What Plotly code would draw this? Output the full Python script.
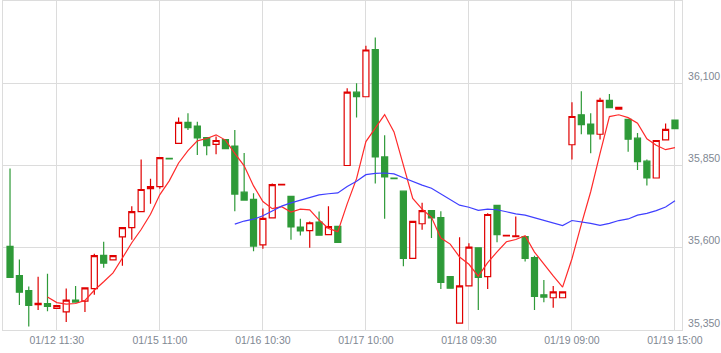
import plotly.graph_objects as go

# bar index positions and tick labels
tick_idx = [5, 16, 27, 38, 49, 60, 71]
tick_labels = ["01/12 11:30", "01/15 11:00", "01/16 10:30", "01/17 10:00",
               "01/18 09:30", "01/19 09:00", "01/19 15:00"]

opens = [35604, 35515, 35470, 35427, 35430, 35416, 35405, 35441, 35438, 35476,
         35577, 35563, 35633, 35661, 35710, 35780, 35786, 35872, 35917, 35981,
         35970, 35935, 35914, 35929, 35909, 35769, 35747, 35609, 35691, 35791,
         35756, 35663, 35652, 35678, 35640, 35665, 35850, 36073, 36059, 36202,
         35876, 35812, 35772, 35568, 35673, 35713, 35692, 35512, 35371, 35484,
         35600, 35512, 35729, 35636, 35634, 35634, 35570, 35457, 35448, 35448,
         35913, 36004, 35976, 35945, 36048, 36021, 35990, 35933, 35863, 35812,
         35928, 35988]
highs = [35841, 35564, 35482, 35512, 35521, 35424, 35476, 35484, 35478, 35582,
         35618, 35576, 35661, 35726, 35868, 35810, 35874, 35872, 35996, 36009,
         35983, 35935, 35938, 35929, 35958, 35888, 35766, 35719, 35795, 35793,
         35756, 35688, 35680, 35710, 35726, 35665, 36085, 36100, 36214, 36239,
         35942, 35812, 35772, 35680, 35737, 35713, 35711, 35512, 35632, 35614,
         35600, 35705, 35729, 35638, 35695, 35634, 35576, 35502, 35484, 35466,
         36042, 36076, 36009, 36056, 36067, 36027, 35990, 35949, 35868, 35926,
         35978, 35988]
lows = [35510, 35426, 35361, 35411, 35407, 35416, 35374, 35435, 35405, 35457,
        35539, 35563, 35545, 35624, 35710, 35734, 35779, 35870, 35917, 35958,
        35882, 35881, 35884, 35901, 35711, 35745, 35589, 35597, 35691, 35791,
        35624, 35637, 35600, 35638, 35640, 35616, 35850, 35996, 36059, 35795,
        35688, 35810, 35544, 35568, 35655, 35630, 35475, 35477, 35371, 35484,
        35411, 35475, 35617, 35636, 35634, 35558, 35411, 35434, 35418, 35448,
        35868, 35945, 35887, 35929, 36026, 36021, 35892, 35836, 35789, 35812,
        35928, 35962]
closes = [35510, 35465, 35425, 35431, 35422, 35424, 35441, 35435, 35478, 35576,
          35553, 35576, 35661, 35710, 35777, 35786, 35874, 35870, 35981, 35965,
          35934, 35910, 35926, 35901, 35763, 35745, 35605, 35689, 35792, 35793,
          35663, 35651, 35676, 35638, 35664, 35616, 36073, 36059, 36201, 35876,
          35815, 35810, 35568, 35680, 35713, 35691, 35495, 35477, 35484, 35602,
          35510, 35701, 35640, 35638, 35636, 35568, 35452, 35450, 35466, 35466,
          35999, 35974, 35946, 36048, 36026, 36027, 35930, 35862, 35812, 35926,
          35960, 35962]

# 5-bar average line (starts at bar 4)
ma5 = [35450.6, 35433.4, 35428.6, 35430.6, 35440.0, 35470.8, 35496.6, 35523.6,
       35568.8, 35615.2, 35655.4, 35702.0, 35761.6, 35803.4, 35857.6, 35895.2,
       35924.8, 35932.0, 35943.2, 35927.2, 35886.8, 35849.0, 35788.0, 35740.6,
       35718.8, 35724.8, 35708.4, 35717.6, 35715.0, 35684.2, 35658.4, 35649.0,
       35733.4, 35810.0, 35922.6, 35965.0, 36004.8, 35952.2, 35854.0, 35749.8,
       35717.2, 35692.4, 35629.4, 35611.2, 35572.0, 35549.8, 35513.6, 35554.8,
       35587.4, 35618.2, 35625.0, 35636.6, 35586.8, 35548.8, 35514.4, 35480.4,
       35566.6, 35671.0, 35770.2, 35886.6, 35998.6, 36004.2, 35995.4, 35978.6,
       35931.4, 35911.4, 35898.0, 35904.4]
# 25-bar average line (starts at bar 24)
ma25 = [35671.8, 35681.2, 35686.8, 35697.3, 35711.8, 35726.6, 35736.2, 35744.6,
        35754.2, 35760.6, 35764.1, 35766.6, 35786.5, 35802.4, 35822.1, 35826.0,
        35827.2, 35824.6, 35812.6, 35800.5, 35790.4, 35780.7, 35764.1, 35746.2,
        35729.5, 35723.0, 35713.6, 35717.5, 35715.5, 35709.4, 35703.1, 35699.3,
        35691.3, 35682.3, 35675.4, 35667.5, 35682.8, 35678.8, 35674.3, 35668.2,
        35674.2, 35682.7, 35687.5, 35699.2, 35704.5, 35713.0, 35723.8, 35742.5]

x = list(range(len(closes)))
x_ma5 = x[4:]
x_ma25 = x[24:]

RED = "#e00000"
GREEN = "#2e9a38"
GRID = "#dcdcdc"
TXT = "#7f8893"

fig = go.Figure()
fig.add_trace(go.Candlestick(
    x=x, open=opens, high=highs, low=lows, close=closes,
    increasing=dict(line=dict(color=RED, width=1.2), fillcolor="white"),
    decreasing=dict(line=dict(color=GREEN, width=1.2), fillcolor=GREEN),
    whiskerwidth=0, hoverinfo="skip", showlegend=False,
))
fig.add_trace(go.Scatter(x=x_ma5, y=ma5, mode="lines",
                         line=dict(color="#ff2a2a", width=1.2),
                         hoverinfo="skip", showlegend=False))
fig.add_trace(go.Scatter(x=x_ma25, y=ma25, mode="lines",
                         line=dict(color="#3f3fff", width=1.2),
                         hoverinfo="skip", showlegend=False))

fig.update_layout(
    width=721, height=353,
    margin=dict(l=3, r=39, t=1, b=23),
    paper_bgcolor="white", plot_bgcolor="white",
    boxgap=0.08,
    font=dict(family="Liberation Sans, Arial, sans-serif", size=10.5, color=TXT),
    xaxis=dict(
        range=[-0.75, len(closes) - 0.25],
        tickmode="array", tickvals=tick_idx, ticktext=tick_labels,
        showgrid=True, gridcolor=GRID, gridwidth=1,
        showline=True, linecolor=GRID, linewidth=1, mirror=True,
        ticks="", zeroline=False, rangeslider=dict(visible=False),
        tickfont=dict(size=10.5, color=TXT),
    ),
    yaxis=dict(
        range=[35350, 36350], side="right",
        tickmode="array", tickvals=[35350, 35600, 35850, 36100],
        tickformat=",d",
        showgrid=True, gridcolor=GRID, gridwidth=1,
        showline=True, linecolor=GRID, linewidth=1, mirror=True,
        ticks="", zeroline=False,
        ticklabelshift=-7, ticklabelstandoff=3,
        tickfont=dict(size=10.5, color=TXT),
    ),
)

fig.write_html("out.html")
